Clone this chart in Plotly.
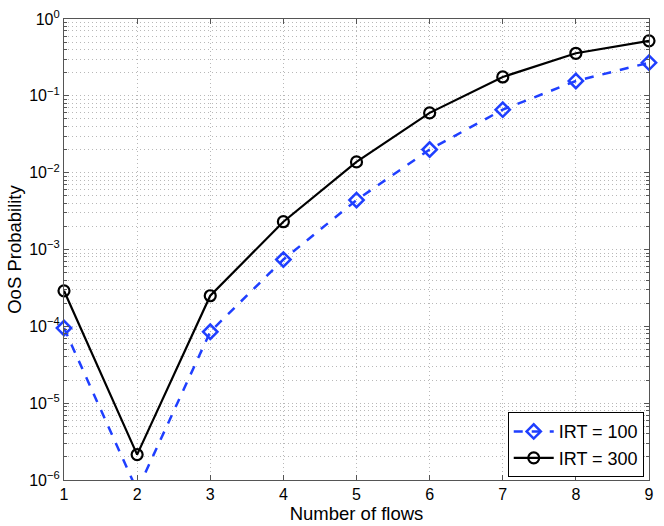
import plotly.graph_objects as go

flows = [1, 2, 3, 4, 5, 6, 7, 8, 9]
irt100 = [9.5e-5, 7.3e-7, 8.5e-5, 7.4e-4, 4.4e-3, 2.0e-2, 6.6e-2, 0.156, 0.27]
irt300 = [2.9e-4, 2.14e-6, 2.5e-4, 2.3e-3, 1.38e-2, 6.0e-2, 0.176, 0.358, 0.52]
ytick_vals = [1e-6, 1e-5, 1e-4, 1e-3, 1e-2, 1e-1, 1]
ytick_text = ["10<sup>−6</sup>", "10<sup>−5</sup>", "10<sup>−4</sup>", "10<sup>−3</sup>",
              "10<sup>−2</sup>", "10<sup>−1</sup>", "10<sup>0</sup>"]

fig = go.Figure()
fig.add_trace(go.Scatter(
    x=flows, y=irt100, mode="lines+markers", name="IRT = 100",
    line=dict(color="#1f3fff", width=2.5, dash="dash"),
    marker=dict(symbol="diamond-open", size=11, color="#1f3fff", line=dict(width=2.5)),
    cliponaxis=False,
))
fig.add_trace(go.Scatter(
    x=flows, y=irt300, mode="lines+markers", name="IRT = 300",
    line=dict(color="black", width=2.2),
    marker=dict(symbol="circle-open", size=11, color="black", line=dict(width=2.2)),
    cliponaxis=False,
))

grid_col = "#b8b8b8"
fig.update_layout(
    width=664, height=526,
    margin=dict(l=64, r=15, t=19, b=46, autoexpand=False),
    paper_bgcolor="white", plot_bgcolor="white",
    font=dict(family="Liberation Sans, Arial, sans-serif", size=16, color="black"),
    showlegend=True,
    legend=dict(x=0.991, y=0.006, xanchor="right", yanchor="bottom",
                bgcolor="white", bordercolor="black", borderwidth=1,
                font=dict(size=18), tracegroupgap=0, itemwidth=40),
    xaxis=dict(
        range=[1, 9], tickvals=flows, automargin=False,
        title=dict(text="Number of flows", font=dict(size=18.5), standoff=1),
        showline=True, linecolor="#555555", linewidth=1.2, mirror="ticks",
        ticks="inside", ticklen=5, tickcolor="#555555",
        showgrid=True, gridcolor=grid_col, griddash="1px,3px", gridwidth=1, zeroline=False,
    ),
    yaxis=dict(
        type="log", range=[-6, 0], tickvals=ytick_vals, ticktext=ytick_text, automargin=False,
        title=dict(text="OoS Probability", font=dict(size=18.5), standoff=2),
        showline=True, linecolor="#555555", linewidth=1.2, mirror="ticks",
        ticks="inside", ticklen=5, tickcolor="#555555",
        showgrid=True, gridcolor=grid_col, griddash="1px,3px", gridwidth=1, zeroline=False,
        minor=dict(dtick="D1", showgrid=True, gridcolor=grid_col, griddash="1px,3px",
                   ticks="inside", ticklen=3, tickcolor="#555555"),
    ),
)

fig.write_html("out.html", config={"displayModeBar": False},
               post_script="document.body.style.margin='0';document.body.style.overflow='hidden';")
